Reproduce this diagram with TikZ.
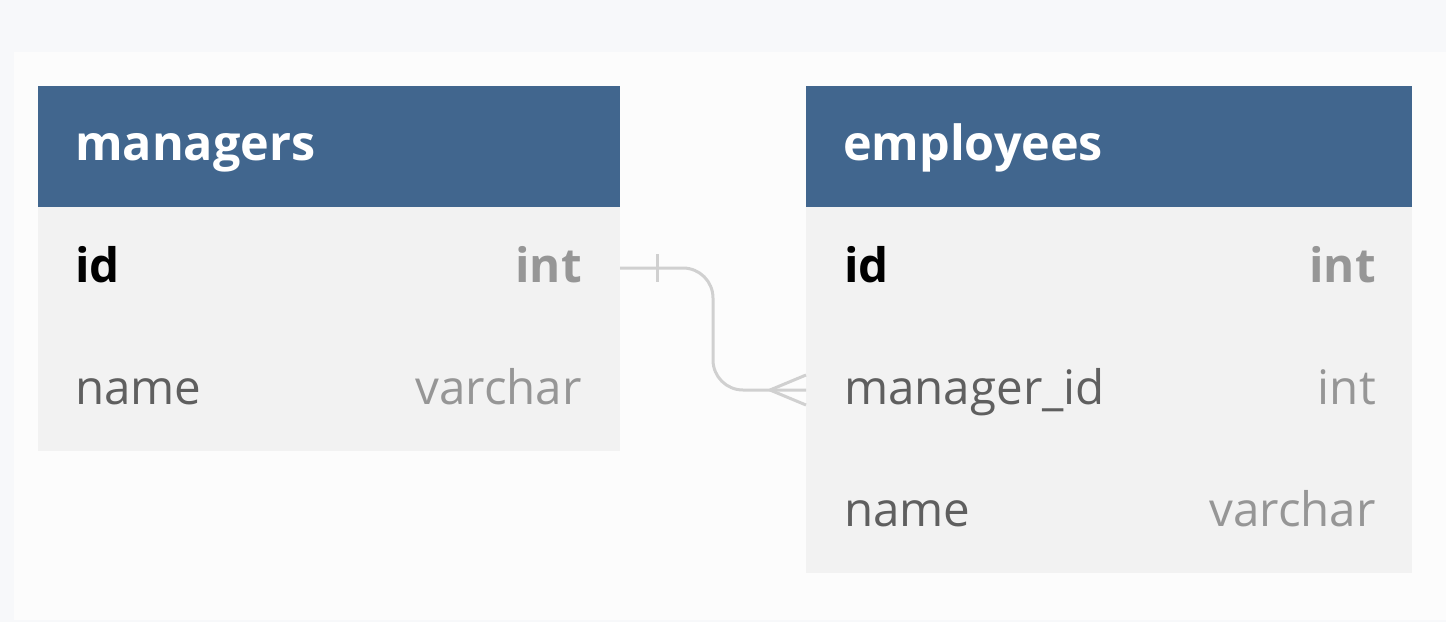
\documentclass[tikz,border=0pt]{standalone}
\usepackage{fontspec}
\setmainfont{Open Sans}
\usetikzlibrary{calc}

\definecolor{fundo}{RGB}{247,248,250}
\definecolor{painel}{RGB}{252,252,252}
\definecolor{cabec}{RGB}{65,102,142}
\definecolor{linha}{RGB}{242,242,242}
\definecolor{ligacao}{RGB}{208,208,208}
\definecolor{campocor}{RGB}{95,95,95}
\definecolor{tipocor}{RGB}{150,150,150}

\tikzset{
	cabecalho/.style={fill=cabec, draw=none, inner sep=0pt, outer sep=0pt, minimum height=121pt, anchor=north west},
	registro/.style={fill=linha, draw=none, inner sep=0pt, outer sep=0pt, minimum height=122pt, anchor=north west},
	titulo/.style={text=white, inner sep=0pt, anchor=base west, font=\fontsize{48.5}{58}\bfseries},
	chave/.style={text=black, inner sep=0pt, anchor=base west, font=\fontsize{47.5}{56}\bfseries},
	campo/.style={text=campocor, inner sep=0pt, anchor=base west, font=\fontsize{47.5}{56}\selectfont},
	tipochave/.style={text=tipocor, inner sep=0pt, anchor=base east, font=\fontsize{47.5}{56}\bfseries},
	tipo/.style={text=tipocor, inner sep=0pt, anchor=base east, font=\fontsize{47.5}{56}\selectfont},
	ligar/.style={draw=ligacao, line width=3pt}
}

\begin{document}
\begin{tikzpicture}[x=1pt,y=-1pt]
		\fill[fundo] (0,0) rectangle (1446,622);						% Fundo
		\fill[painel] (14,52) rectangle (1446,620);						% Painel
		\useasboundingbox (0,0) rectangle (1446,622);

		% Tabela managers
		\node[cabecalho, minimum width=582pt] (m-cab) at (38,86) {};
		\node[registro, minimum width=582pt] (m-id) at (38,207) {};
		\node[registro, minimum width=582pt] (m-name) at (38,329) {};
		\node[titulo] at ($(m-cab.west)+(37,14)$) {managers};			% Rótulo managers
		\node[chave] at ($(m-id.west)+(37,14)$) {id};
		\node[tipochave] at ($(m-id.east)+(-38,14)$) {int};
		\node[campo] at ($(m-name.west)+(37,14)$) {name};
		\node[tipo] at ($(m-name.east)+(-38,14)$) {varchar};

		% Tabela employees
		\node[cabecalho, minimum width=606pt] (e-cab) at (806,86) {};
		\node[registro, minimum width=606pt] (e-id) at (806,207) {};
		\node[registro, minimum width=606pt] (e-mid) at (806,329) {};
		\node[registro, minimum width=606pt] (e-name) at (806,451) {};
		\node[titulo] at ($(e-cab.west)+(37,14)$) {employees};			% Rótulo employees
		\node[chave] at ($(e-id.west)+(38,14)$) {id};
		\node[tipochave] at ($(e-id.east)+(-36,14)$) {int};
		\node[campo] at ($(e-mid.west)+(38,14)$) {manager\_id};
		\node[tipo] at ($(e-mid.east)+(-36,14)$) {int};
		\node[campo] at ($(e-name.west)+(38,14)$) {name};
		\node[tipo] at ($(e-name.east)+(-36,14)$) {varchar};

		% Ligação
		\coordinate (dobra) at (713,330);
		\coordinate (pe) at ($(e-mid.west)+(-36,0)$);
		\draw[ligar, rounded corners=30pt] (m-id.east) -| (dobra) |- (e-mid.west);
		\draw[ligar] ($(m-id.east)+(37,-14)$) -- ++(0,28);				% Um
		\draw[ligar] (pe) -- ($(e-mid.west)+(0,-15)$);					% Muitos
		\draw[ligar] (pe) -- ($(e-mid.west)+(0,15)$);
	\end{tikzpicture}
\end{document}
